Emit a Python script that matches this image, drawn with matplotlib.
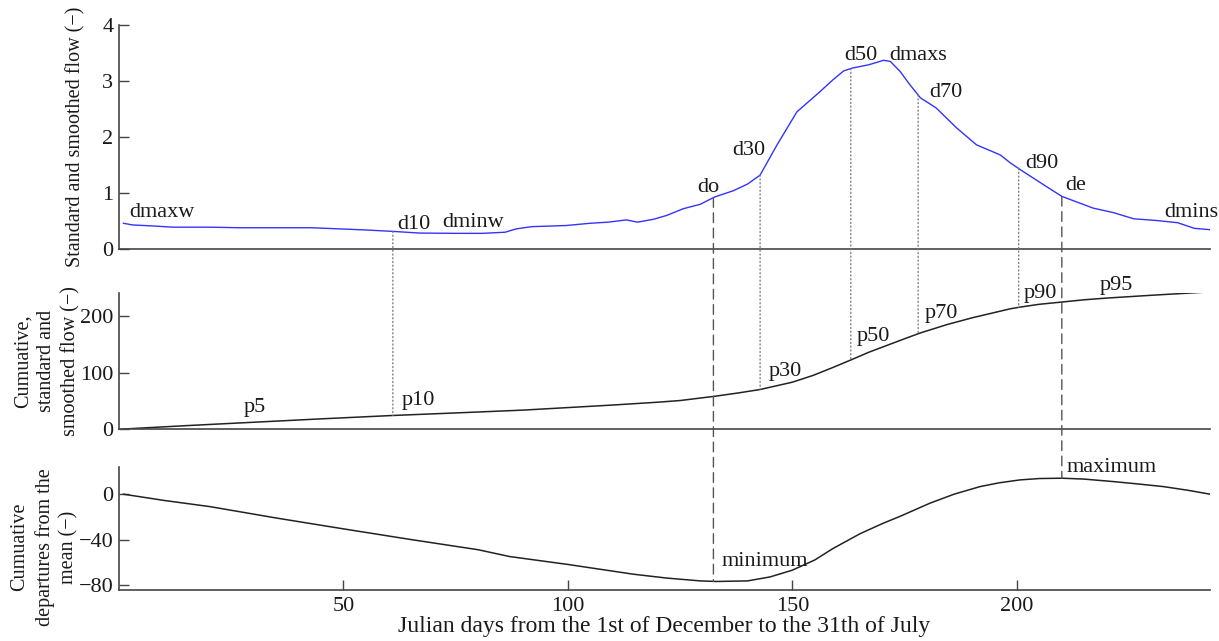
import matplotlib
matplotlib.use("Agg")
import matplotlib.pyplot as plt
from matplotlib.patches import ConnectionPatch
import numpy as np

plt.rcParams['font.family'] = ['Liberation Serif', 'DejaVu Serif']
plt.rcParams['font.size'] = 16

# standard and smoothed flow (day, value)
flow_day = [1, 3, 8, 12, 20, 27, 33, 39, 43, 49, 55, 61, 64, 67, 75, 81, 86, 88.5,
            92, 96, 99.6, 105, 109, 113, 115.5, 119, 122, 125.7, 129.5, 132.7, 136.8,
            140, 142.8, 146.5, 151, 156, 159, 161.4, 163.3, 167, 170.3, 171.8, 174,
            176, 178.5, 182, 186.6, 191, 196.3, 198.5, 200.7, 205.9, 210, 217, 221.5,
            226, 231, 235.8, 239.5, 243]
flow_val = [0.46, 0.43, 0.41, 0.39, 0.39, 0.38, 0.38, 0.38, 0.38, 0.36, 0.34, 0.315,
            0.30, 0.285, 0.28, 0.28, 0.30, 0.36, 0.40, 0.41, 0.42, 0.46, 0.48, 0.52,
            0.48, 0.53, 0.60, 0.72, 0.80, 0.93, 1.04, 1.16, 1.32, 1.85, 2.45, 2.80,
            3.02, 3.18, 3.23, 3.29, 3.37, 3.35, 3.17, 2.95, 2.70, 2.52, 2.16, 1.86,
            1.68, 1.54, 1.42, 1.15, 0.94, 0.73, 0.65, 0.54, 0.51, 0.47, 0.37, 0.345]

# cumulative standard flow
cum_day = [1, 15, 30, 45, 61, 75, 90, 100, 110, 120, 125, 132.7, 138, 142.8, 145, 150,
           154.6, 159, 163.5, 167, 171, 175, 178.4, 184.4, 190, 198.5, 200.7, 205, 210,
           215, 220, 230, 243]
cum_val = [0, 6, 12, 18, 24, 28.5, 33.5, 38, 42.5, 47.5, 50.5, 58, 64, 70, 74, 83, 95,
           109, 124, 136, 148, 160, 170, 185, 197, 213, 216, 221, 225, 229, 232, 237, 243]

# cumulative departures from the mean
dep_day = [1, 10, 20.3, 35, 50, 65, 80, 87, 100, 114.6, 122, 129.5, 133, 140, 145, 150,
           155, 159, 165, 170, 174, 180.6, 186, 191.8, 196, 200.7, 205, 210, 215, 221.5,
           227, 232.6, 238, 243]
dep_val = [0, -5.5, -11, -21, -30.6, -40, -49, -55, -62, -70.6, -74, -76.5, -77, -76.5,
           -73, -67, -58, -48, -35, -26, -19.5, -8, 0, 6.7, 10, 12.6, 13.8, 14.1, 13.3,
           11.1, 9, 6.7, 3.5, 0]

# percentile days (dotted) and onset/end days (dashed)
pct_days = [61, 142.8, 163, 178, 200.4]
onset_end_days = [132.4, 210]

# labels on the curves: (text, day, value)
flow_labels = [("dmaxw", 2.4, 0.57), ("d10", 62, 0.36), ("dminw", 72, 0.40),
               ("do", 128.8, 1.02), ("d30", 136.6, 1.68), ("d50", 161.6, 3.38),
               ("dmaxs", 171.5, 3.38), ("d70", 180.4, 2.72), ("d90", 201.9, 1.45),
               ("de", 210.8, 1.06), ("dmins", 232.8, 0.58)]
cum_labels = [("p5", 27.7, 31), ("p10", 63, 42), ("p30", 144.8, 94), ("p50", 164.3, 156),
              ("p70", 179.5, 196), ("p90", 201.5, 232), ("p95", 218.5, 246)]
dep_labels = [("minimum", 134.1, -63.3), ("maximum", 211.1, 20)]

spine_col = '#454545'
txt_col = '#1a1a1a'
ylab_size = 14.5

fig = plt.figure(figsize=(12.19, 6.41), dpi=100)
ax1 = fig.add_axes([0.0976, 0.6115, 0.895, 0.3495])
ax2 = fig.add_axes([0.0976, 0.3307, 0.895, 0.2122])
ax3 = fig.add_axes([0.0976, 0.0796, 0.895, 0.1919])

for ax in (ax1, ax2, ax3):
    ax.set_xlim(0, 243)
    for s in ('top', 'right'):
        ax.spines[s].set_visible(False)
    for s in ('left', 'bottom'):
        ax.spines[s].set_color(spine_col)
        ax.spines[s].set_linewidth(1.2)
    ax.tick_params(direction='in', length=7, width=1, color=spine_col,
                   labelcolor=txt_col, labelsize=16, pad=4)

ax1.plot(flow_day, flow_val, color='#3333ff', lw=1)
ax1.set_ylim(0, 4)
ax1.set_yticks([0, 1, 2, 3, 4])
ax1.set_xticks([])

ax2.plot(cum_day, cum_val, color='#222222', lw=1.1)
ax2.set_ylim(0, 241)
ax2.set_yticks([0, 100, 200])
ax2.set_xticks([])

ax3.plot(dep_day, dep_val, color='#222222', lw=1.1)
ax3.set_ylim(-84.5, 24)
ax3.set_yticks([-80, -40, 0])
ax3.set_xticks([50, 100, 150, 200])
ax3.tick_params(axis='x', pad=5)
ax3.set_xlabel("Julian days from the 1st of December to the 31th of July",
               color=txt_col, fontsize=17, labelpad=0)

ax1.text(-0.040, 0.5, "Standard and smoothed flow (\u2212)", transform=ax1.transAxes,
         rotation=90, ha='center', va='center', color=txt_col, fontsize=ylab_size)
ax2.text(-0.066, 0.5, "Cumuative,\nstandard and\nsmoothed flow (\u2212)",
         transform=ax2.transAxes, rotation=90, ha='center', va='center',
         multialignment='center', linespacing=1.35, color=txt_col, fontsize=ylab_size)
ax3.text(-0.068, 0.35, "Cumuative\ndepartures from the\nmean (\u2212)",
         transform=ax3.transAxes, rotation=90, ha='center', va='center',
         multialignment='center', linespacing=1.35, color=txt_col, fontsize=ylab_size)

for ax, labels in ((ax1, flow_labels), (ax2, cum_labels), (ax3, dep_labels)):
    for t, x, y in labels:
        ax.text(x, y, t, ha='left', va='baseline', color=txt_col, clip_on=False)

# dotted lines from the flow curve down to the cumulative curve
for d in pct_days:
    y1 = np.interp(d, flow_day, flow_val)
    y2 = np.interp(d, cum_day, cum_val)
    con = ConnectionPatch(xyA=(d, y1), coordsA=ax1.transData,
                          xyB=(d, y2), coordsB=ax2.transData,
                          color='#777777', lw=0.9, linestyle=(0, (1, 2)))
    fig.add_artist(con)

# dashed lines from the flow curve down to the departures curve
for d in onset_end_days:
    y1 = np.interp(d, flow_day, flow_val)
    y3 = np.interp(d, dep_day, dep_val)
    con = ConnectionPatch(xyA=(d, y1), coordsA=ax1.transData,
                          xyB=(d, y3), coordsB=ax3.transData,
                          color='#555555', lw=1, linestyle=(0, (7, 4)))
    fig.add_artist(con)

fig.savefig("out.png", dpi=100)
